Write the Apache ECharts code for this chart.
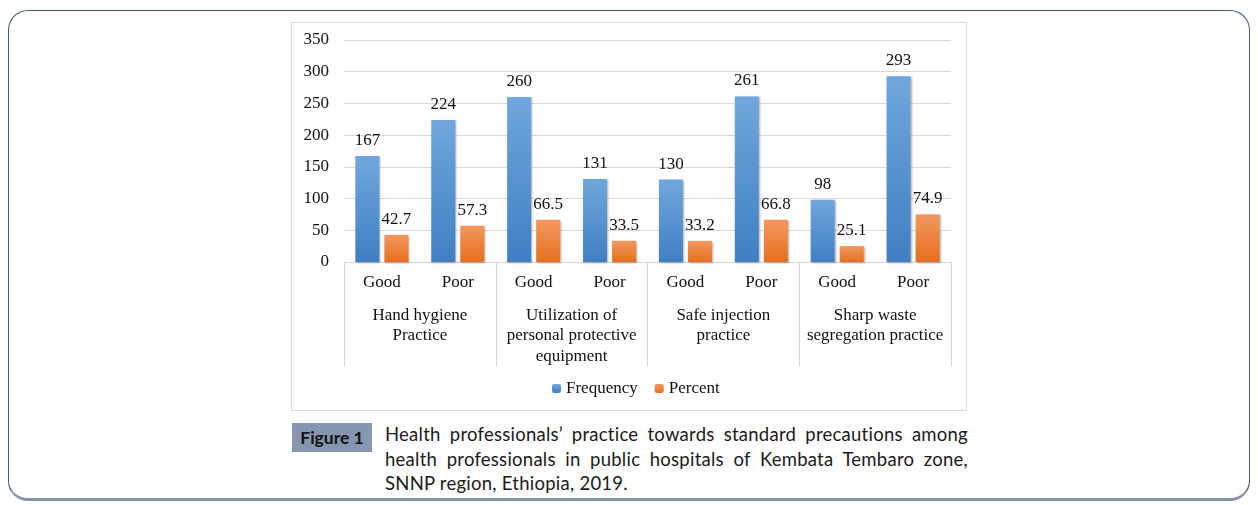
<!DOCTYPE html>
<html>
<head>
<meta charset="utf-8">
<script src="https://cdn.jsdelivr.net/npm/echarts@6/dist/echarts.min.js"></script>
<style>
  html, body { margin: 0; padding: 0; background: #fff; width: 1258px; height: 505px; overflow: hidden; }
  #frame { position: absolute; left: 8px; top: 10px; width: 1240px; height: 487px;
    border: 1.5px solid #3f5b83; border-bottom: 3px solid #8493aa; border-radius: 20px; box-sizing: content-box; }
  #chartbox { position: absolute; left: 291px; top: 22px; width: 674px; height: 387px; border: 1px solid #d9d9d9; }
  #chart { position: absolute; left: 0; top: 0; width: 674px; height: 387px; }
  #figlabel { position: absolute; left: 292px; top: 423px; width: 80px; height: 29px; background: #8496b0;
    color: #111; font-family: Lato, "Open Sans", sans-serif; font-weight: bold; font-size: 17.5px;
    line-height: 29px; text-align: center; }
  #caption { position: absolute; left: 385px; top: 422px; width: 583px; color: #1a1a1a;
    font-family: Lato, "Open Sans", sans-serif; font-size: 18.5px; letter-spacing: 0.25px; line-height: 24.5px; }
  #caption .j { display: block; text-align: justify; text-align-last: justify; white-space: nowrap; }
  #caption .l { display: block; text-align: left; white-space: nowrap; }
</style>
</head>
<body>
<div id="frame"></div>
<div id="chartbox"><div id="chart"></div></div>
<div id="figlabel">Figure 1</div>
<div id="caption"><span class="j">Health professionals’ practice towards standard precautions among</span><span class="j">health professionals in public hospitals of Kembata Tembaro zone,</span><span class="l">SNNP region, Ethiopia, 2019.</span></div>
<script>
const subCategories = ['Good', 'Poor', 'Good', 'Poor', 'Good', 'Poor', 'Good', 'Poor'];
const groupLabels = ['Hand hygiene\nPractice', 'Utilization of\npersonal protective\nequipment', 'Safe injection\npractice', 'Sharp waste\nsegregation practice'];
const frequency = [167, 224, 260, 131, 130, 261, 98, 293];
const percent = [42.7, 57.3, 66.5, 33.5, 33.2, 66.8, 25.1, 74.9];
const seriesNames = ['Frequency', 'Percent'];
const yMin = 0, yMax = 350, yStep = 50;

const serif = '"Liberation Serif", "DejaVu Serif", serif';
const chart = echarts.init(document.getElementById('chart'));
const blueGrad = new echarts.graphic.LinearGradient(0, 0, 0, 1, [
  { offset: 0, color: '#70a7dd' }, { offset: 1, color: '#3f7fc2' }]);
const orangeGrad = new echarts.graphic.LinearGradient(0, 0, 0, 1, [
  { offset: 0, color: '#f3985f' }, { offset: 1, color: '#e66f1d' }]);
const labelStyle = { show: true, position: 'top', distance: 7, color: '#111', fontFamily: serif, fontSize: 17 };
const shadow = { shadowBlur: 2, shadowColor: 'rgba(0,0,0,0.3)', shadowOffsetX: 1, shadowOffsetY: 1 };

chart.setOption({
  animation: false,
  grid: { left: 52, right: 15, top: 17, bottom: 148 },
  legend: {
    data: seriesNames, left: 255, top: 352, itemWidth: 9, itemHeight: 9, itemGap: 17,
    textStyle: { fontFamily: serif, fontSize: 17, color: '#111' }
  },
  xAxis: [
    {
      type: 'category', data: subCategories, position: 'bottom',
      axisLine: { show: true, lineStyle: { color: '#d4d4d4', width: 1 } },
      axisTick: { show: false },
      axisLabel: { interval: 0, margin: 12, color: '#111', fontFamily: serif, fontSize: 17 }
    },
    {
      type: 'category', data: groupLabels, position: 'bottom',
      axisLine: { show: false },
      axisTick: { show: true, length: 104, lineStyle: { color: '#d4d4d4', width: 1 } },
      axisLabel: { interval: 0, margin: 43, color: '#111', fontFamily: serif, fontSize: 17, lineHeight: 20.5 }
    }
  ],
  yAxis: {
    type: 'value', min: yMin, max: yMax, interval: yStep,
    axisLine: { show: false }, axisTick: { show: false },
    splitLine: { lineStyle: { color: '#d9d9d9', width: 1 } },
    axisLabel: { margin: 15, color: '#111', fontFamily: serif, fontSize: 17 }
  },
  series: [
    { name: seriesNames[0], type: 'bar', xAxisIndex: 0, data: frequency, barWidth: 24, barGap: '21%',
      itemStyle: Object.assign({ color: blueGrad }, shadow), label: labelStyle },
    { name: seriesNames[1], type: 'bar', xAxisIndex: 0, data: percent, barWidth: 24, barGap: '21%',
      itemStyle: Object.assign({ color: orangeGrad }, shadow), label: labelStyle }
  ]
});
</script>
</body>
</html>
